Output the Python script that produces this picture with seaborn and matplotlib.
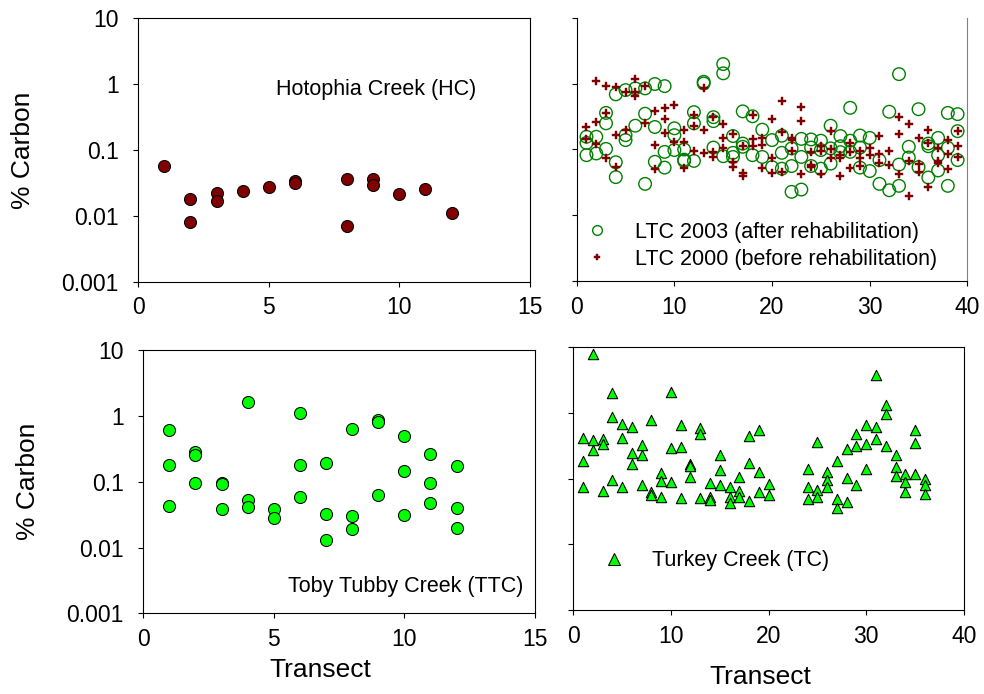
import matplotlib
matplotlib.use("Agg")
import matplotlib.pyplot as plt
from matplotlib.lines import Line2D
from matplotlib.ticker import NullLocator
import numpy as np
import pandas as pd
import seaborn as sns

### data (% carbon per transect)

# Hotophia Creek (HC)
hc_transect = [1, 2, 2, 3, 3, 4, 5, 6, 6, 8, 8, 9, 9, 10, 11, 12]
hc_carbon = [0.056, 0.018, 0.0081, 0.0225, 0.017, 0.024, 0.027, 0.034, 0.031,
             0.036, 0.0071, 0.0355, 0.0297, 0.0212, 0.0252, 0.0111]

# Toby Tubby Creek (TTC), samples per transect (1..12)
ttc_carbon = [[0.61, 0.179, 0.043], [0.277, 0.255, 0.094], [0.094, 0.092, 0.038],
              [1.63, 0.053, 0.0417], [0.038, 0.0277], [1.086, 0.179, 0.059],
              [0.195, 0.0318, 0.0129], [0.626, 0.030, 0.019], [0.87, 0.79, 0.0627],
              [0.50, 0.145, 0.031], [0.26, 0.094, 0.048], [0.175, 0.0398, 0.020]]

# Little Tallahatchie Creek, transects 1..39
ltc2003 = [[0.156, 0.126, 0.082], [0.156, 0.087], [0.36, 0.25, 0.102],
           [0.69, 0.064, 0.038], [0.80, 0.165, 0.139], [0.85, 0.23],
           [0.85, 0.35, 0.030], [0.99, 0.22, 0.065], [0.92, 0.092, 0.053],
           [0.21, 0.165, 0.098], [0.10, 0.070, 0.067], [0.37, 0.25, 0.067],
           [1.07, 1.01], [0.31, 0.27, 0.107], [1.99, 1.44, 0.079],
           [0.16, 0.089, 0.077], [0.38, 0.123, 0.11], [0.32, 0.082],
           [0.20, 0.077], [0.139, 0.054], [0.162, 0.089, 0.051],
           [0.104, 0.056, 0.0227], [0.145, 0.077, 0.0246], [0.142, 0.107, 0.056],
           [0.136, 0.098, 0.051], [0.23, 0.104, 0.061], [0.16, 0.112, 0.091],
           [0.43, 0.136, 0.092], [0.163, 0.107, 0.053], [0.15, 0.047],
           [0.069, 0.030], [0.375, 0.024], [1.40, 0.059, 0.028],
           [0.11, 0.0755], [0.41, 0.054], [0.123, 0.112, 0.0375],
           [0.15, 0.082, 0.048], [0.36, 0.106, 0.028], [0.345, 0.19, 0.069]]

ltc2000 = [[0.22, 0.145], [1.11, 0.26, 0.12], [0.92, 0.36, 0.074],
           [0.88, 0.165, 0.054], [0.76, 0.197], [1.19, 0.76, 0.65],
           [0.93, 0.25], [0.38, 0.115, 0.050], [0.43, 0.29, 0.18],
           [0.48, 0.131], [0.197, 0.131, 0.052], [0.34, 0.23, 0.095],
           [0.87, 0.20, 0.087], [0.31, 0.092, 0.077], [0.24, 0.15, 0.107],
           [0.171, 0.065, 0.054], [0.112, 0.044, 0.039], [0.33, 0.142, 0.112],
           [0.152, 0.118, 0.053], [0.29, 0.0755, 0.044], [0.545, 0.186, 0.046],
           [0.152, 0.139, 0.094], [0.44, 0.27, 0.042], [0.09, 0.058, 0.054],
           [0.112, 0.095, 0.042], [0.188, 0.10, 0.0755], [0.082, 0.0755, 0.039],
           [0.126, 0.092, 0.053], [0.095, 0.073, 0.056], [0.107, 0.082],
           [0.16, 0.085, 0.063], [0.095, 0.058], [0.31, 0.17, 0.042],
           [0.243, 0.067, 0.0195], [0.147, 0.060, 0.045], [0.197, 0.126, 0.027],
           [0.106, 0.067, 0.063], [0.139, 0.085, 0.051], [0.19, 0.112, 0.077]]

# Turkey Creek (TC), transects 1..36 (21-23 not sampled)
tc_carbon = [[0.42, 0.184, 0.074], [7.9, 0.38, 0.27], [0.40, 0.33, 0.064],
             [1.98, 0.87, 0.095], [0.67, 0.41, 0.074], [0.60, 0.244, 0.164],
             [0.32, 0.225, 0.081], [0.77, 0.062, 0.057], [0.121, 0.093, 0.052],
             [2.10, 0.29, 0.088], [0.65, 0.30, 0.051], [0.168, 0.153, 0.105],
             [0.58, 0.47, 0.051], [0.085, 0.052, 0.047], [0.225, 0.136, 0.081],
             [0.075, 0.052, 0.043], [0.107, 0.065, 0.052], [0.44, 0.172, 0.046],
             [0.54, 0.125, 0.062], [0.083, 0.056], [], [], [],
             [0.141, 0.074, 0.049], [0.36, 0.067, 0.052], [0.125, 0.095, 0.075],
             [0.184, 0.049, 0.036], [0.28, 0.102, 0.044], [0.48, 0.31, 0.081],
             [0.66, 0.33, 0.141], [3.77, 0.60, 0.40], [1.31, 0.95, 0.316],
             [0.225, 0.149, 0.11], [0.118, 0.088, 0.063], [0.54, 0.35, 0.118],
             [0.099, 0.081, 0.058]]

y_ticks = [0.001, 0.01, 0.1, 1, 10]
y_tick_labels = ["0.001", "0.01", "0.1", "1", "10"]


def to_frame(groups):
    rows = []
    for i, vals in enumerate(groups):
        for v in vals:
            rows.append([i + 1, v])
    return pd.DataFrame(rows, columns=["Transect", "Carbon"])


df_hc = pd.DataFrame({"Transect": hc_transect, "Carbon": hc_carbon})
df_ttc = to_frame(ttc_carbon)
df_03 = to_frame(ltc2003)
df_00 = to_frame(ltc2000)
df_tc = to_frame(tc_carbon)

sns.set_style("ticks")
plt.rcParams["font.family"] = ["Liberation Sans", "DejaVu Sans"]
plt.rcParams["text.color"] = "black"
plt.rcParams["axes.labelcolor"] = "black"
plt.rcParams["xtick.color"] = "black"
plt.rcParams["ytick.color"] = "black"

fig = plt.figure(figsize=(9.84, 6.94), dpi=100)
ax_hc = fig.add_axes([0.1405, 0.5941, 0.398, 0.380])
ax_ltc = fig.add_axes([0.5861, 0.5951, 0.397, 0.379])
ax_ttc = fig.add_axes([0.1456, 0.1160, 0.398, 0.380])
ax_tc = fig.add_axes([0.5826, 0.1210, 0.397, 0.379])


def style_axis(ax, xmax, xstep, left):
    ax.set_yscale("log")
    ax.set_ylim(0.001, 10)
    ax.set_xlim(0, xmax)
    ax.set_xticks(np.arange(0, xmax + 1, xstep))
    ax.set_yticks(y_ticks)
    ax.yaxis.set_minor_locator(NullLocator())
    ax.set_yticklabels(y_tick_labels if left else [])
    ax.tick_params(direction="out", length=3.6, width=0.8, labelsize=16.5,
                   color="black", labelcolor="black")
    ax.tick_params(axis="x", pad=7)
    ax.tick_params(axis="y", pad=10.5)
    for sp in ax.spines.values():
        sp.set_visible(True)
        sp.set_linewidth(0.8)
        sp.set_color("black")
    ax.set_xlabel("")
    ax.set_ylabel("")
    if left:
        ax.set_ylabel("% Carbon", fontsize=19, color="black")
        ax.yaxis.set_label_coords(-0.264, 0.5)


# top left: Hotophia Creek
sns.scatterplot(data=df_hc, x="Transect", y="Carbon", ax=ax_hc, marker="o", s=75,
                color="#800000", edgecolor="black", linewidth=0.75, legend=False, zorder=3)
style_axis(ax_hc, 15, 5, True)
ax_hc.text(0.353, 0.708, "Hotophia Creek (HC)", transform=ax_hc.transAxes,
           fontsize=15.5, va="baseline", ha="left", color="black")

# top right: Little Tallahatchie Creek 2003 / 2000
sns.scatterplot(data=df_03, x="Transect", y="Carbon", ax=ax_ltc, marker="o", s=82,
                facecolor="none", edgecolor="#008000", linewidth=1.0, legend=False, zorder=3)
sns.scatterplot(data=df_00, x="Transect", y="Carbon", ax=ax_ltc, marker="P", s=28,
                color="#800000", edgecolor="#800000", linewidth=0.3, legend=False, zorder=4)
style_axis(ax_ltc, 40, 10, False)
ax_ltc.spines["top"].set_visible(False)
ax_ltc.spines["right"].set_color("#808080")
ltc_handles = [Line2D([], [], ls="", marker="o", ms=7, mfc="none", mec="#008000", mew=1.0),
               Line2D([], [], ls="", marker="P", ms=4.8, mfc="#800000", mec="#800000", mew=0.3)]
leg = ax_ltc.legend(ltc_handles, ["LTC 2003 (after rehabilitation)", "LTC 2000 (before rehabilitation)"],
                    loc="center left", bbox_to_anchor=(0.024, 0.134), frameon=False, fontsize=15.5,
                    borderpad=0, borderaxespad=0, handlelength=1.0, handletextpad=1.27,
                    labelspacing=0.26)
for t in leg.get_texts():
    t.set_color("black")

# bottom left: Toby Tubby Creek
sns.scatterplot(data=df_ttc, x="Transect", y="Carbon", ax=ax_ttc, marker="o", s=75,
                color="#00FF00", edgecolor="black", linewidth=0.75, legend=False, zorder=3)
style_axis(ax_ttc, 15, 5, True)
ax_ttc.text(0.970, 0.083, "Toby Tubby Creek (TTC)", transform=ax_ttc.transAxes,
            fontsize=15.5, va="baseline", ha="right", color="black")
ax_ttc.set_xlabel("Transect", fontsize=19, color="black")
ax_ttc.xaxis.set_label_coords(0.451, -0.169)

# bottom right: Turkey Creek
sns.scatterplot(data=df_tc, x="Transect", y="Carbon", ax=ax_tc, marker="^", s=56,
                color="#00FF00", edgecolor="black", linewidth=0.75, legend=False, zorder=3)
style_axis(ax_tc, 40, 10, False)
tc_handles = [Line2D([], [], ls="", marker="^", ms=8, mfc="#00FF00", mec="black", mew=0.75)]
leg2 = ax_tc.legend(tc_handles, ["Turkey Creek (TC)"], loc="center left",
                    bbox_to_anchor=(0.077, 0.1875), frameon=False, fontsize=15.5,
                    borderpad=0, borderaxespad=0, handlelength=1.0, handletextpad=1.25)
for t in leg2.get_texts():
    t.set_color("black")
ax_tc.set_xlabel("Transect", fontsize=19, color="black")
ax_tc.xaxis.set_label_coords(0.4775, -0.209)

fig.savefig("out.png", dpi=100)
